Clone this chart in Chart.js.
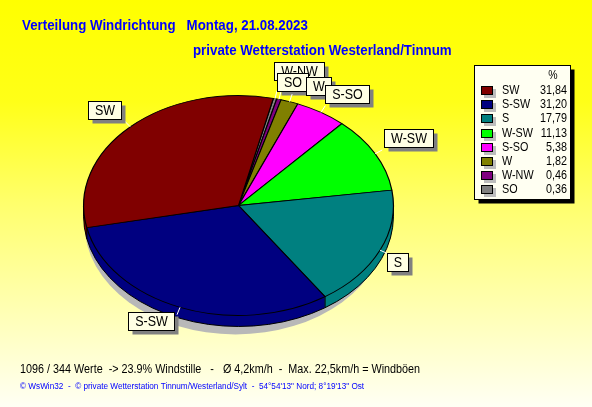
<!DOCTYPE html>
<html lang="de">
<head>
<meta charset="UTF-8">
<title>Verteilung Windrichtung</title>
<script src="https://cdn.jsdelivr.net/npm/chart.js@4.4.0/dist/chart.umd.min.js"></script>
<style>
  html, body { margin: 0; padding: 0; background: #ffff00; }
  #wrap { width: 592px; height: 407px; }
</style>
</head>
<body>
<div id="wrap"><canvas id="grafico" width="592" height="407"></canvas></div>
<script>
// Richtungen in Legendenreihenfolge, Anteile in %
var richtungen = ['SW', 'S-SW', 'S', 'W-SW', 'S-SO', 'W', 'W-NW', 'SO'];
var anteile = [31.84, 31.20, 17.79, 11.13, 5.38, 1.82, 0.46, 0.36];
var anteilTexte = ['31,84', '31,20', '17,79', '11,13', '5,38', '1,82', '0,46', '0,36'];
var farben = ['#800000', '#000080', '#008080', '#00ff00', '#ff00ff', '#808000', '#800080', '#808080'];

var titel1 = 'Verteilung Windrichtung   Montag, 21.08.2023';
var titel2 = 'private Wetterstation Westerland/Tinnum';
var fuss1 = '1096 / 344 Werte  -> 23.9% Windstille   -   \u00d8 4,2km/h  -  Max. 22,5km/h = Windb\u00f6en';
var fuss2 = '\u00a9 WsWin32  -  \u00a9 private Wetterstation Tinnum/Westerland/Sylt  -  54\u00b054\'13" Nord; 8\u00b019\'13" Ost';

var STAUCHUNG = 0.71;   // Ellipse: Höhe / Breite
var TIEFE = 11;         // 3D-Dicke in px
var SY = 1.15;          // Schrift leicht gestreckt wie im Original
var SCHRIFT = '"Liberation Sans", Arial, sans-serif';

function schreibe(ctx, t, x, y, font, farbe, align) {
    ctx.save();
    ctx.font = font;
    ctx.fillStyle = farbe;
    ctx.textAlign = align || 'left';
    ctx.textBaseline = 'alphabetic';
    ctx.translate(x, y);
    ctx.scale(1, SY);
    ctx.fillText(t, 0, 0);
    ctx.restore();
}

var hintergrund = {
    id: 'hintergrund',
    beforeDraw: function (chart) {
        var ctx = chart.ctx;
        var g = ctx.createLinearGradient(0, 0, 0, chart.height);
        g.addColorStop(0, '#ffff00');
        g.addColorStop(0.25, '#ffff18');
        g.addColorStop(0.5, '#ffff6c');
        g.addColorStop(0.75, '#ffffb0');
        g.addColorStop(1, '#fffff4');
        ctx.save();
        ctx.fillStyle = g;
        ctx.fillRect(0, 0, chart.width, chart.height);
        ctx.restore();
    }
};

var torte3d = {
    id: 'torte3d',
    beforeDatasetsDraw: function (chart) {
        var ctx = chart.ctx;
        var arcs = chart.getDatasetMeta(0).data;
        var cx = arcs[0].x, cy = arcs[0].y, r = arcs[0].outerRadius, ry = r * STAUCHUNG;
        ctx.save();
        // Schatten unter der Torte
        ctx.fillStyle = '#b8b8b8';
        ctx.beginPath();
        ctx.ellipse(cx - 3, cy + TIEFE + 8, r - 4, ry, 0, 0, Math.PI * 2);
        ctx.fill();
        // Seitenwand
        for (var d = TIEFE; d >= 1; d--) {
            for (var i = 0; i < arcs.length; i++) {
                var a = arcs[i];
                ctx.beginPath();
                ctx.moveTo(cx, cy + d);
                ctx.ellipse(cx, cy + d, r, ry, 0, a.startAngle, a.endAngle);
                ctx.closePath();
                ctx.fillStyle = a.options.backgroundColor;
                ctx.fill();
            }
        }
        ctx.strokeStyle = '#000';
        ctx.lineWidth = 1;
        ctx.beginPath();
        ctx.ellipse(cx, cy + TIEFE, r, ry, 0, 0, Math.PI);
        ctx.stroke();
        ctx.beginPath();
        for (var k = 0; k < arcs.length; k++) {
            var w = arcs[k].startAngle;
            if (Math.sin(w) > 0) {
                var px = cx + r * Math.cos(w), py = cy + ry * Math.sin(w);
                ctx.moveTo(px, py);
                ctx.lineTo(px, py + TIEFE);
            }
        }
        ctx.moveTo(cx - r, cy); ctx.lineTo(cx - r, cy + TIEFE);
        ctx.moveTo(cx + r, cy); ctx.lineTo(cx + r, cy + TIEFE);
        ctx.stroke();
        // Oberseite gestaucht zeichnen
        ctx.translate(cx, cy);
        ctx.scale(1, STAUCHUNG);
        ctx.translate(-cx, -cy);
    },
    afterDatasetsDraw: function (chart) {
        chart.ctx.restore();
    }
};

// kleine Verschiebungen der Beschriftungen (enger Bereich oben)
var verschiebung = {
    'W-NW': [-7, -12], 'W': [14, 1], 'S-SO': [0, -3],
    'SW': [-4, -2], 'S-SW': [-3, -3], 'W-SW': [2, -3]
};
var zeichenfolge = ['W-NW', 'SO', 'W', 'S-SO', 'W-SW', 'S', 'S-SW', 'SW'];

var beschriftung = {
    id: 'beschriftung',
    afterDraw: function (chart) {
        var ctx = chart.ctx;
        var meta = chart.getDatasetMeta(0);
        var namen = chart.data.labels;
        var a0 = meta.data[0];
        var cx = a0.x, cy = a0.y, r = a0.outerRadius, ry = r * STAUCHUNG;

        // Titel
        schreibe(ctx, titel1, 22, 30, 'bold 13.3px ' + SCHRIFT, '#0000ff');
        schreibe(ctx, titel2, 193, 55, 'bold 13.3px ' + SCHRIFT, '#0000ff');

        // Beschriftungen an den Segmenten
        zeichenfolge.forEach(function (name) {
            var i = namen.indexOf(name);
            var a = meta.data[i];
            var m = (a.startAngle + a.endAngle) / 2;
            var c = Math.cos(m), s = Math.sin(m);
            var rx0 = cx + r * c, ry0 = cy + ry * s;
            var ex = rx0 + 8 * c, ey = ry0 + 8 * s;
            ctx.save();
            ctx.font = '12.5px ' + SCHRIFT;
            var bw = Math.round(ctx.measureText(name).width + 13), bh = 18;
            var bx = c > 0 ? ex : ex - bw;
            var by = s > 0 ? ey : ey - bh;
            var v = verschiebung[name] || [0, 0];
            bx = Math.round(bx + v[0]) + 0.5; by = Math.round(by + v[1]) + 0.5;
            ctx.strokeStyle = '#ffffff';
            ctx.lineWidth = 1;
            ctx.beginPath();
            ctx.moveTo(rx0, ry0);
            ctx.lineTo(ex, ey);
            ctx.stroke();
            ctx.fillStyle = '#808080';
            ctx.fillRect(bx + 4, by + 4, bw, bh);
            ctx.fillStyle = '#ffffe4';
            ctx.fillRect(bx, by, bw, bh);
            ctx.strokeStyle = '#000000';
            ctx.strokeRect(bx, by, bw, bh);
            ctx.restore();
            schreibe(ctx, name, bx + bw / 2, by + 13.5, '12.5px ' + SCHRIFT, '#000000', 'center');
        });

        // Legende
        var lx = 474.5, ly = 65.5, lw = 96, lh = 134;
        ctx.save();
        ctx.fillStyle = '#000000';
        ctx.fillRect(lx + 4, ly + 4, lw, lh);
        ctx.fillStyle = '#fffff2';
        ctx.fillRect(lx, ly, lw, lh);
        ctx.strokeStyle = '#000000';
        ctx.strokeRect(lx, ly, lw, lh);
        ctx.restore();
        schreibe(ctx, '%', 553, 79, '10.5px ' + SCHRIFT, '#000000', 'center');
        richtungen.forEach(function (name, i) {
            var y = 90 + i * 14.2;
            ctx.save();
            ctx.fillStyle = '#bdbdbd';
            ctx.fillRect(484, Math.round(y - 4) + 3, 12, 9);
            ctx.fillStyle = farben[i];
            ctx.fillRect(481, Math.round(y - 4), 12, 9);
            ctx.strokeStyle = '#000000';
            ctx.strokeRect(481.5, Math.round(y - 4) + 0.5, 11, 8);
            ctx.restore();
            schreibe(ctx, name, 502, y + 4, '10.8px ' + SCHRIFT, '#000000');
            schreibe(ctx, anteilTexte[i], 567, y + 4, '10.8px ' + SCHRIFT, '#000000', 'right');
        });

        // Fußzeilen
        schreibe(ctx, fuss1, 20, 373, '10.8px ' + SCHRIFT, '#000000');
        schreibe(ctx, fuss2, 20, 389, '8.2px ' + SCHRIFT, '#0000ff');
    }
};

// Chart.js zeichnet im Uhrzeigersinn, das Original gegen den Uhrzeigersinn
var labelsRev = richtungen.slice().reverse();
var datenRev = anteile.slice().reverse();
var farbenRev = farben.slice().reverse();

var ctx = document.getElementById('grafico').getContext('2d');
var grafik = new Chart(ctx, {
    type: 'pie',
    data: {
        labels: labelsRev,
        datasets: [{
            data: datenRev,
            backgroundColor: farbenRev,
            borderColor: '#000000',
            borderWidth: 1.2,
            hoverOffset: 0
        }]
    },
    options: {
        responsive: false,
        animation: false,
        devicePixelRatio: 1,
        rotation: 13,
        layout: { padding: { left: 83, right: 198, top: 50, bottom: 46 } },
        plugins: {
            legend: { display: false },
            tooltip: { enabled: false }
        }
    },
    plugins: [hintergrund, torte3d, beschriftung]
});
</script>
</body>
</html>
